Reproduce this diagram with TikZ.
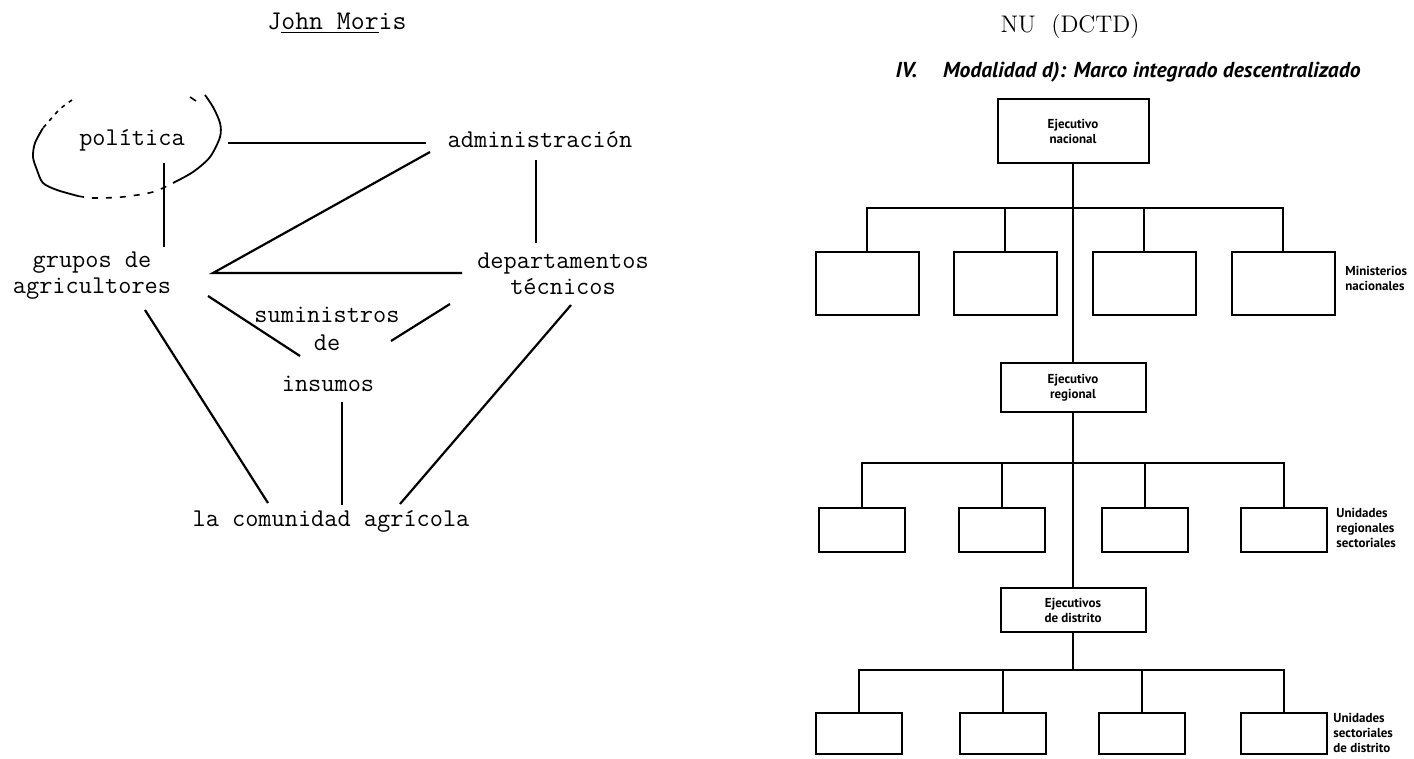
\documentclass[tikz,border=0pt]{standalone}
\usepackage{fontspec}
\newfontfamily\chartfont{PT Sans}
\usetikzlibrary{positioning}

\begin{document}
\begin{tikzpicture}[x=0.5pt, y=-0.5pt,
    typed/.style={font=\ttfamily\fontsize{12.8}{13}\selectfont, align=center, inner sep=0pt},
    link/.style={line width=1.1pt},
    unit/.style={rectangle, draw, line width=1pt, inner sep=0pt, align=center,
      font=\chartfont\bfseries\fontsize{6.5}{7.5}\selectfont},
    head/.style={unit, minimum width=72.5pt, minimum height=23pt},
    ministry/.style={unit, minimum width=51.5pt, minimum height=31.5pt},
    office/.style={unit, minimum width=43pt, minimum height=22pt},
    sidenote/.style={anchor=west, align=left, inner sep=0pt,
      font=\chartfont\bfseries\fontsize{6.5}{7.5}\selectfont},
    bar/.style={line width=1pt}]

    \useasboundingbox (0,0) rectangle (1414,759);

    % Titulos
    \node[typed, font=\ttfamily\fontsize{13.5}{15}\selectfont] (moris) at (337,23) {J\underline{ohn Mor}is};
    \node[font=\fontsize{12}{14}\selectfont] (nu) at (1070,27) {NU\ \ (DCTD)};
    \node[font=\chartfont\bfseries\itshape\fontsize{10.8}{12}\selectfont] (modal) at (1128,72)
      {IV.\hspace{1.2em}Modalidad d): Marco integrado descentralizado};

    % Esquema de Moris
    \node[typed] (pol) at (132,140) {política};
    \node[typed] (adm) at (540,140) {administración};
    \node[typed] (grp) at (92,276) {grupos de\\agricultores};
    \node[typed] (dep) at (563,274) {departamentos\\técnicos};
    \node[typed] (sum) at (327,329) {suministros\\[1pt]de};
    \node[typed] (ins) at (328,384) {insumos};
    \node[typed] (com) at (331,521) {la comunidad agrícola};

    % Ovalo a mano
    \draw[line width=0.8pt, dash pattern=on 2pt off 2.5pt] plot[smooth] coordinates {(72,100) (60,109) (50,120) (43,128)};
    \draw[line width=0.9pt] plot[smooth] coordinates {(43,128) (35,143) (33,157) (37,170) (43,183) (57,190) (78,196)};
    \draw[line width=0.8pt, dash pattern=on 3pt off 4pt] plot[smooth] coordinates {(78,196) (93,198) (122,197) (153,192) (173,183)};
    \draw[line width=0.9pt] plot[smooth] coordinates {(173,183) (193,172) (210,157) (220,137) (220,123) (213,107) (205,95)};
    \draw[line width=0.8pt] (190,97) -- (196,101);

    % Lineas
    \draw[link] ([xshift=48pt,yshift=-1.5pt]pol.center) -- ([xshift=-10.5pt,yshift=-1.5pt]adm.west);
    \draw[link] ([xshift=16pt,yshift=-11.5pt]pol.center) -- ([xshift=36pt,yshift=14.5pt]grp.center);
    \draw[link] ([xshift=-2pt,yshift=-10pt]adm.center) -- ([xshift=-13.5pt,yshift=15.5pt]dep.center);
    \draw[link] ([xshift=-55pt,yshift=-6pt]adm.center) -- ([xshift=60.5pt,yshift=1.5pt]grp.center)
      -- ([xshift=-50.5pt,yshift=0.5pt]dep.center);
    \draw[link] ([xshift=58pt,yshift=-10pt]grp.center) -- ([xshift=-13.5pt,yshift=-13.5pt]sum.center);
    \draw[link] ([xshift=-56.5pt,yshift=-15pt]dep.center) -- ([xshift=32pt,yshift=-6pt]sum.center);
    \draw[link] ([xshift=7pt,yshift=-9pt]ins.center) -- ([xshift=5.5pt,yshift=8pt]com.center);
    \draw[link] ([xshift=26.5pt,yshift=-17pt]grp.center) -- ([xshift=-31.5pt,yshift=9pt]com.center);
    \draw[link] ([xshift=4pt,yshift=-15.5pt]dep.center) -- ([xshift=34.5pt,yshift=8.5pt]com.center);

    % Organigrama NU
    \node[head, minimum width=75.5pt, minimum height=32pt] (nac) at (1073,131) {Ejecutivo\\nacional};
    \node[head, minimum height=24.5pt] (reg) at (1073,387.5) {Ejecutivo\\regional};
    \node[head, minimum height=22pt] (dis) at (1073,610) {Ejecutivos\\de distrito};

    \foreach \i/\x in {1/867, 2/1005, 3/1144, 4/1283}
      \node[ministry] (min\i) at (\x,283.5) {};
    \foreach \i/\x in {1/862, 2/1002, 3/1145, 4/1284}
      \node[office] (ur\i) at (\x,529.5) {};
    \foreach \i/\x in {1/859, 2/1003, 3/1142, 4/1284}
      \node[office, minimum height=20.5pt] (ud\i) at (\x,733.5) {};

    \node[sidenote] (minlab) at (1345,278) {Ministerios\\nacionales};
    \node[sidenote] (urlab) at (1336,528) {Unidades\\regionales\\sectoriales};
    \node[sidenote] (udlab) at (1333,733) {Unidades\\sectoriales\\de distrito};

    \coordinate (bar1) at (1073,208);
    \coordinate (bar2) at (1073,463);
    \coordinate (bar3) at (1073,670);

    \draw[bar] (nac) -- (reg);
    \draw[bar] (reg) -- (dis);
    \draw[bar] (dis) -- (bar3);
    \draw[bar] (min1.north) |- (bar1) -| (min4.north);
    \draw[bar] (ur1.north) |- (bar2) -| (ur4.north);
    \draw[bar] (ud1.north) |- (bar3) -| (ud4.north);
    \foreach \i in {2,3} {
      \draw[bar] (min\i.north) -- (min\i.north |- bar1);
      \draw[bar] (ur\i.north) -- (ur\i.north |- bar2);
      \draw[bar] (ud\i.north) -- (ud\i.north |- bar3);
    }
\end{tikzpicture}
\end{document}
